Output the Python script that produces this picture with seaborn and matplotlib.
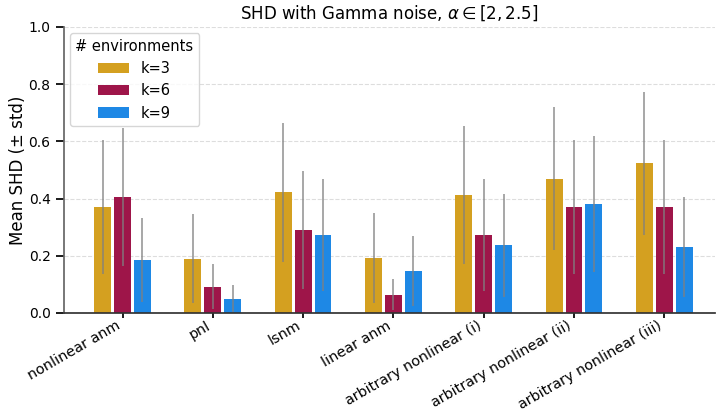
import numpy as np
import pandas as pd
import matplotlib
matplotlib.use("Agg")
import matplotlib.pyplot as plt
import seaborn as sns

# -------------------------------
# Data
# -------------------------------
models = ["nonlinear anm", "pnl", "lsnm", "linear anm",
          "arbitrary nonlinear (i)", "arbitrary nonlinear (ii)", "arbitrary nonlinear (iii)"]
envs = ["k=3", "k=6", "k=9"]

mean_k3 = [0.370, 0.190, 0.422, 0.192, 0.412, 0.470, 0.523]
mean_k6 = [0.405, 0.092, 0.290, 0.064, 0.272, 0.370, 0.370]
mean_k9 = [0.185, 0.050, 0.272, 0.146, 0.237, 0.380, 0.230]

std_k3 = [0.233, 0.155, 0.243, 0.157, 0.240, 0.250, 0.250]
std_k6 = [0.240, 0.080, 0.205, 0.055, 0.195, 0.233, 0.233]
std_k9 = [0.148, 0.048, 0.195, 0.123, 0.180, 0.237, 0.175]

colors = ["#D4A020", "#9E1549", "#1E88E5"]

df = pd.DataFrame({
    "model": models * 3,
    "env": [e for e in envs for _ in models],
    "mean": mean_k3 + mean_k6 + mean_k9,
    "std": std_k3 + std_k6 + std_k9,
})

sns.set_theme(style="ticks", rc={"text.color": "black", "axes.labelcolor": "black",
                                 "xtick.color": "black", "ytick.color": "black"})
plt.rcParams["font.family"] = ["DejaVu Sans"]

fig = plt.figure(figsize=(7.17, 4.15), dpi=100)
ax = fig.add_axes([0.089, 0.246, 0.908, 0.689])

sns.barplot(data=df, x="model", y="mean", hue="env", order=models, hue_order=envs,
            palette=colors, width=0.66, gap=0.15, errorbar=None, saturation=1,
            linewidth=0, edgecolor="none", ax=ax)

# error bars from bar centres
for cont, e in zip(ax.containers, envs):
    sub = df[df["env"] == e].set_index("model").loc[models]
    xs = [p.get_x() + p.get_width() / 2 for p in cont.patches]
    ax.errorbar(xs, sub["mean"].values, yerr=sub["std"].values, fmt="none",
                ecolor="grey", elinewidth=1.3, alpha=0.75, capsize=0, zorder=3)

ax.set_ylim(0, 1.0)
ax.set_xlim(-0.65, 6.56)
ax.set_yticks([0.0, 0.2, 0.4, 0.6, 0.8, 1.0])
ax.yaxis.grid(True, linestyle="--", color="#dddddd", linewidth=0.8)
ax.set_axisbelow(True)
sns.despine(ax=ax)
ax.spines["left"].set_color("#666666")
ax.spines["bottom"].set_color("#333333")
ax.set_xlabel("")
ax.set_ylabel("Mean SHD (± std)", fontsize=12, labelpad=1)
ax.set_title(r"SHD with Gamma noise, $\alpha \in [2, 2.5]$", fontsize=12)
ax.tick_params(axis="y", labelsize=10)
ax.tick_params(axis="x", labelsize=10.4, pad=0.5, length=3.5)
plt.setp(ax.get_xticklabels(), rotation=30, ha="right")

leg = ax.legend(title="# environments", loc="upper left", fontsize=10.5,
                title_fontsize=10.5, frameon=True, handlelength=2.1,
                borderaxespad=0.4)
leg.get_frame().set_edgecolor("#cccccc")

fig.savefig("out.png", dpi=100)
